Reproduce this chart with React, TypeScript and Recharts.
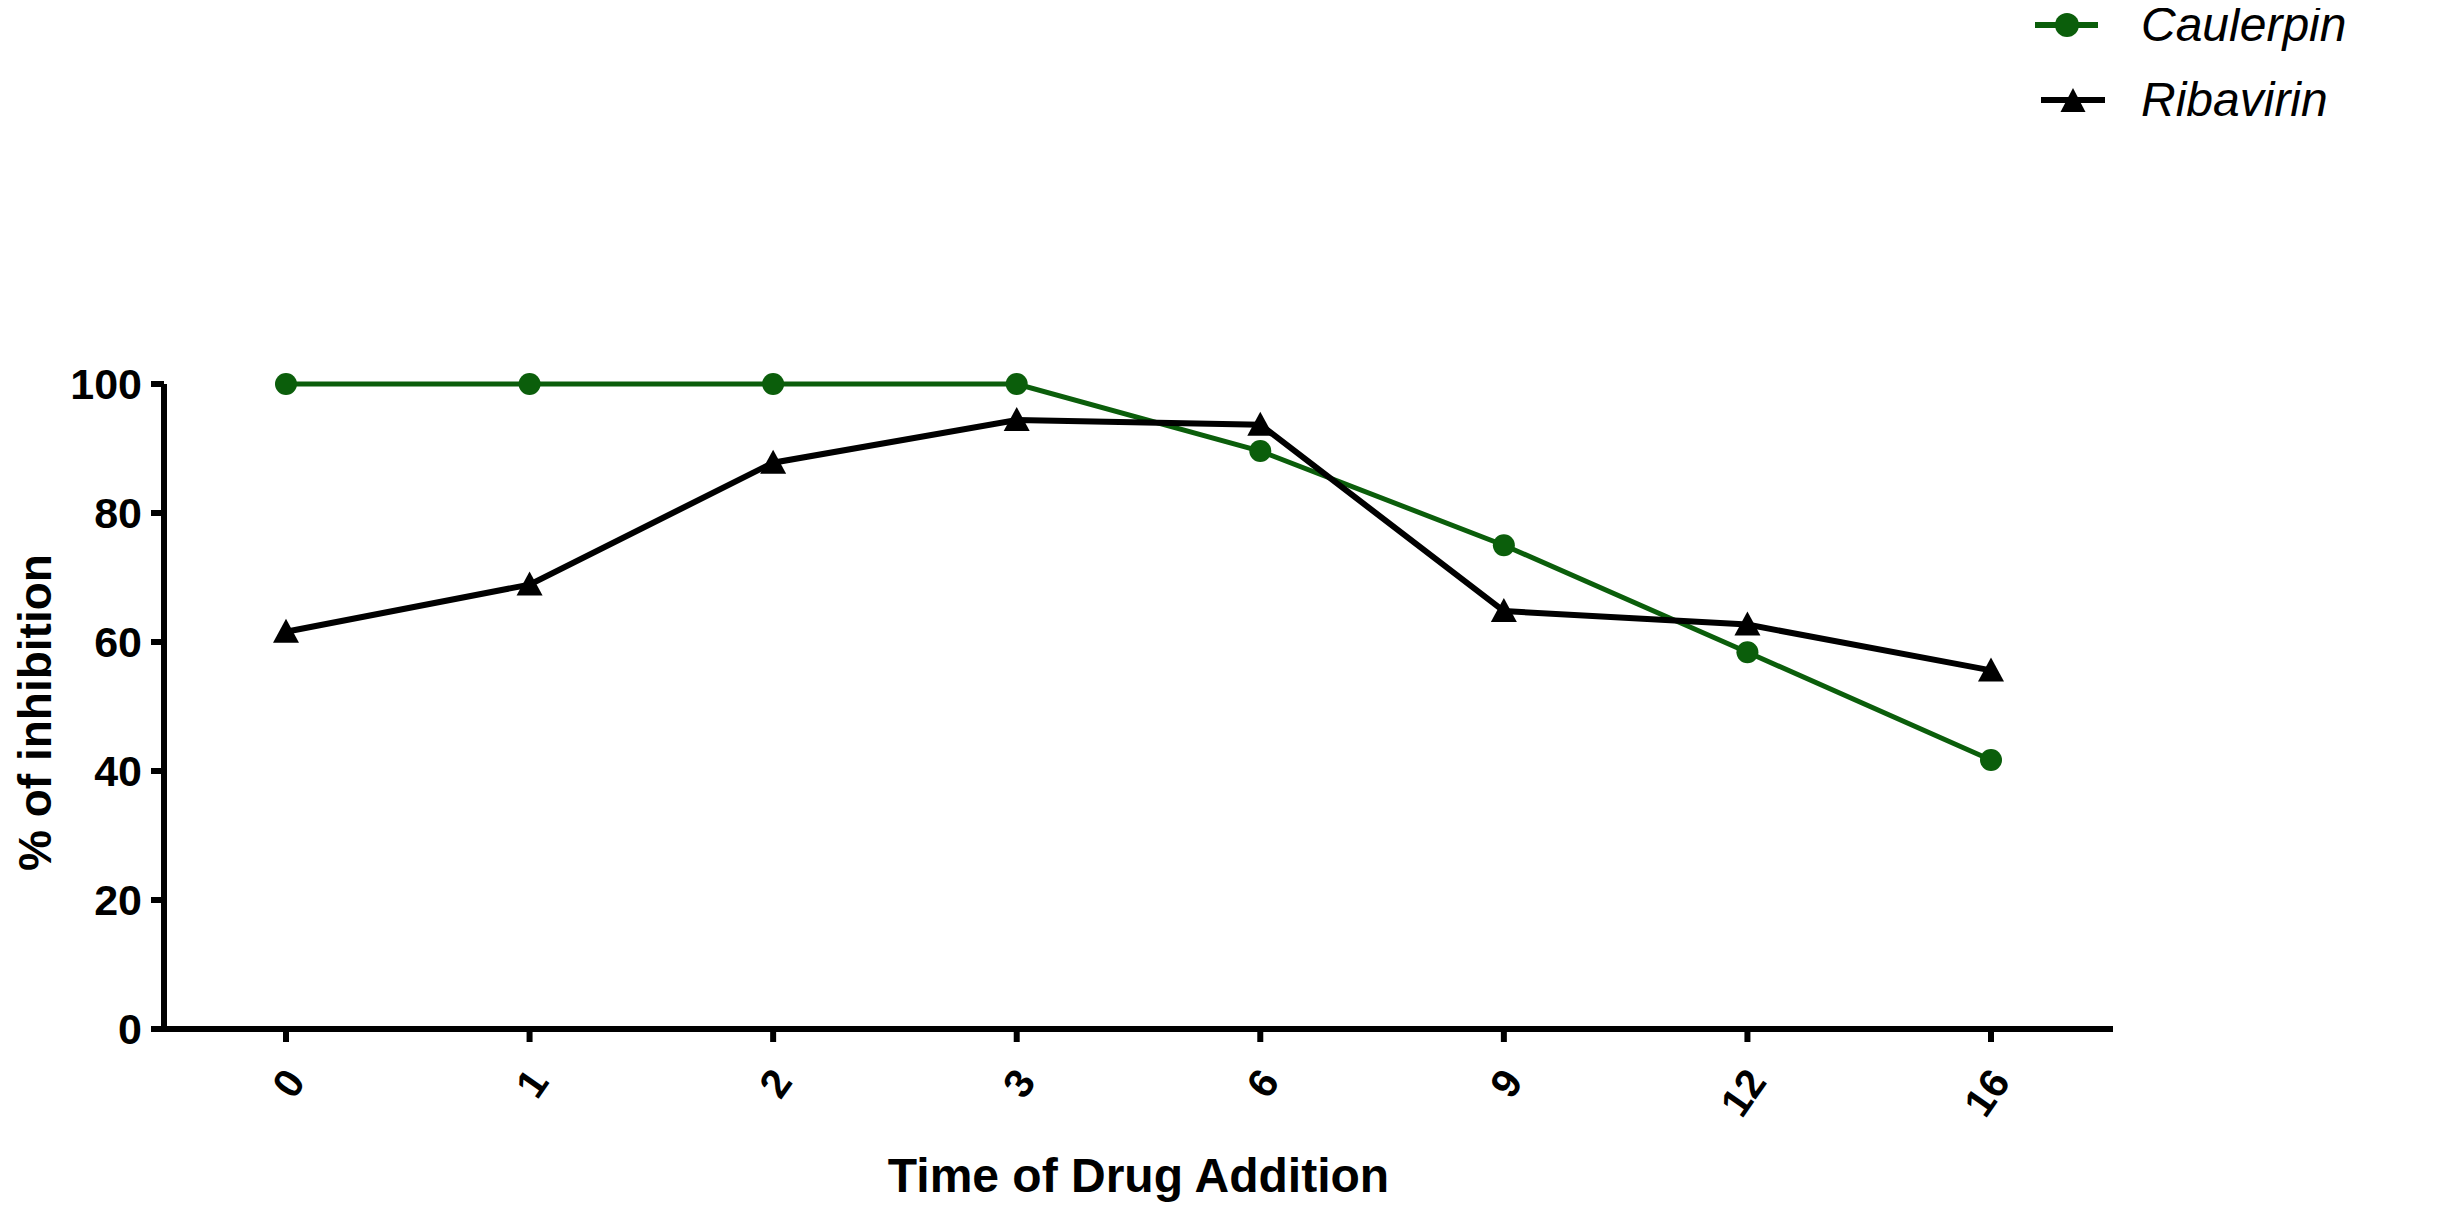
import React from 'react';
import { LineChart, Line, XAxis, YAxis, Legend } from 'recharts';

const times = ['0', '1', '2', '3', '6', '9', '12', '16'];
const caulerpin = [100, 100, 100, 100, 89.6, 75, 58.4, 41.7];
const ribavirin = [61.6, 68.9, 87.8, 94.4, 93.7, 64.8, 62.7, 55.6];
const yTicks = [0, 20, 40, 60, 80, 100];

const data = times.map((t, i) => ({
  time: t,
  Caulerpin: caulerpin[i],
  Ribavirin: ribavirin[i],
}));

const GREEN = '#0b5e0b';

const TriangleDot = (props: any) => {
  const { cx, cy, index } = props;
  if (cx == null || cy == null) return null;
  return (
    <path
      key={`tri-${index}`}
      d={`M${cx},${cy - 13} L${cx + 13},${cy + 11} L${cx - 13},${cy + 11} Z`}
      fill="#000"
    />
  );
};

const XTick = (props: any) => {
  const { x, y, payload } = props;
  return (
    <g transform={`translate(${x},${y})`}>
      <text
        transform="translate(9,32) rotate(-55)"
        textAnchor="end"
        dominantBaseline="central"
        fontSize={41}
        fontWeight="bold"
        fill="#000"
      >
        {payload.value}
      </text>
    </g>
  );
};

const YTitle = (props: any) => {
  const { x, y, height } = props.viewBox;
  return (
    <text
      transform={`translate(${x + 27},${y + height / 2 + 6}) rotate(-90)`}
      textAnchor="middle"
      dominantBaseline="central"
      fontSize={46}
      fontWeight="bold"
      fill="#000"
    >
      % of inhibition
    </text>
  );
};

const XTitle = (props: any) => {
  const { x, y, width } = props.viewBox;
  return (
    <text x={x + width / 2} y={y + 163} textAnchor="middle" fontSize={48} fontWeight="bold" fill="#000">
      Time of Drug Addition
    </text>
  );
};

const LegendBox = () => (
  <div style={{ fontStyle: 'italic', fontSize: 48, color: '#000' }}>
    <div style={{ display: 'flex', alignItems: 'center', height: 75 }}>
      <svg width={106} height={40}>
        <line x1={0} y1={20} x2={63} y2={20} stroke={GREEN} strokeWidth={6} />
        <circle cx={32} cy={20} r={12} fill={GREEN} />
      </svg>
      <span>Caulerpin</span>
    </div>
    <div style={{ display: 'flex', alignItems: 'center', height: 75 }}>
      <svg width={106} height={40}>
        <line x1={6} y1={20} x2={70} y2={20} stroke="#000" strokeWidth={6} />
        <path d="M38,8 L50.5,32 L25.5,32 Z" fill="#000" />
      </svg>
      <span>Ribavirin</span>
    </div>
  </div>
);

export default function App() {
  return (
    <div style={{ width: 2424, height: 1200, fontFamily: '"Liberation Sans", Arial, sans-serif' }}>
      <LineChart
        width={2424}
        height={1200}
        data={data}
        margin={{ top: 376, right: 319, bottom: 29, left: 0 }}
      >
        <XAxis
          dataKey="time"
          padding={{ left: 122, right: 122 }}
          height={150}
          axisLine={{ stroke: '#000', strokeWidth: 6 }}
          tickLine={{ stroke: '#000', strokeWidth: 6 }}
          tickSize={13}
          tickMargin={0}
          tick={<XTick />}
          label={<XTitle />}
          interval={0}
        />
        <YAxis
          width={156}
          domain={[0, 100]}
          ticks={yTicks}
          axisLine={{ stroke: '#000', strokeWidth: 6 }}
          tickLine={{ stroke: '#000', strokeWidth: 6 }}
          tickSize={13}
          tickMargin={9}
          tick={{ fontSize: 43, fontWeight: 'bold', fill: '#000' }}
          label={<YTitle />}
        />
        <Legend
          layout="vertical"
          align="center"
          verticalAlign="middle"
          wrapperStyle={{ position: 'absolute', top: -21, left: 2027, width: 400 }}
          content={<LegendBox />}
        />
        <Line
          dataKey="Caulerpin"
          stroke={GREEN}
          strokeWidth={5}
          dot={{ r: 11, fill: GREEN, stroke: GREEN, strokeWidth: 0 }}
          activeDot={false}
          isAnimationActive={false}
        />
        <Line
          dataKey="Ribavirin"
          stroke="#000"
          strokeWidth={6}
          dot={<TriangleDot />}
          activeDot={false}
          isAnimationActive={false}
        />
      </LineChart>
    </div>
  );
}
